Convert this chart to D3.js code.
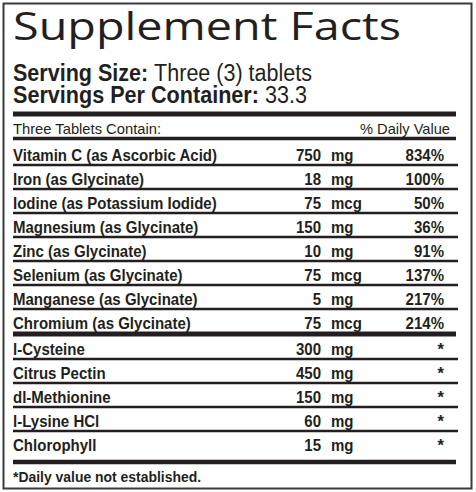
<!DOCTYPE html>
<meta charset="utf-8">
<head>
<style>
  body { margin: 0; background: #fff; }
  text { fill: #231f20; }
</style>
</head>
<script src="https://d3js.org/d3.v7.min.js"></script>
<body>
<div id="label"></div>
</body>
<script>

    // panel rows: first block carries a daily value, second block is "*"
    var mineralNames = ["Vitamin C (as Ascorbic Acid)", "Iron (as Glycinate)", "Iodine (as Potassium Iodide)",
        "Magnesium (as Glycinate)", "Zinc (as Glycinate)", "Selenium (as Glycinate)",
        "Manganese (as Glycinate)", "Chromium (as Glycinate)"];
    var mineralAmounts = [750, 18, 75, 150, 10, 75, 5, 75];
    var mineralUnits = ["mg", "mg", "mcg", "mg", "mg", "mcg", "mg", "mcg"];
    var mineralDV = [834, 100, 50, 36, 91, 137, 217, 214];

    var otherNames = ["l-Cysteine", "Citrus Pectin", "dl-Methionine", "l-Lysine HCl", "Chlorophyll"];
    var otherAmounts = [300, 450, 150, 60, 15];
    var otherUnits = ["mg", "mg", "mg", "mg", "mg"];

    var title = "Supplement Facts";
    var servingSize = "Three (3) tablets";
    var servingsPerContainer = "33.3";
    var footnote = "*Daily value not established.";

    var W = 476, H = 492;
    var left = 13;
    // no condensed face installed, so Liberation Sans gets squeezed sideways below
    var sans = "'Liberation Sans', Arial, sans-serif";

    var svg = d3.select("#label")
      .append("svg")
        .attr("width", W)
        .attr("height", H);

    // squeeze a text node horizontally by factor f
    function condense(node, f) {
        var w = node.getComputedTextLength();
        d3.select(node).attr("textLength", w * f).attr("lengthAdjust", "spacingAndGlyphs");
    }
    function fitTo(node, target) {
        d3.select(node).attr("textLength", target).attr("lengthAdjust", "spacingAndGlyphs");
    }

    // outer border
    svg.append("rect")
        .attr("x", 3.5).attr("y", 3.5)
        .attr("width", 468).attr("height", 485)
        .attr("fill", "none")
        .attr("stroke", "#3a3a3a")
        .attr("stroke-width", 2);

    svg.append("text")
        .attr("x", left).attr("y", 40)
        .attr("textLength", 388).attr("lengthAdjust", "spacingAndGlyphs")
        .style("font-family", "'Open Sans', sans-serif")
        .style("font-size", "38.5px")
        .text(title);

    var s1 = svg.append("text").attr("x", left).attr("y", 80.5)
        .style("font-family", sans).style("font-size", "23px");
    s1.append("tspan").style("font-weight", "bold").text("Serving Size: ");
    s1.append("tspan").text(servingSize);
    fitTo(s1.node(), 299);

    var s2 = svg.append("text").attr("x", left).attr("y", 102.5)
        .style("font-family", sans).style("font-size", "23px");
    s2.append("tspan").style("font-weight", "bold").text("Servings Per Container: ");
    s2.append("tspan").text(servingsPerContainer);
    fitTo(s2.node(), 294);

    function rule(y, w, x2) {
        svg.append("line")
            .attr("x1", left).attr("x2", x2 || 456)
            .attr("y1", y).attr("y2", y)
            .attr("stroke", "#231f20")
            .attr("stroke-width", w);
    }

    rule(114, 5);

    var h1 = svg.append("text").attr("x", left).attr("y", 133.5)
        .style("font-family", sans).style("font-size", "14.5px")
        .text("Three Tablets Contain:");
    fitTo(h1.node(), 148);
    var h2 = svg.append("text").attr("x", 450).attr("y", 133.5)
        .attr("text-anchor", "end")
        .style("font-family", sans).style("font-size", "14.5px")
        .text("% Daily Value");
    fitTo(h2.node(), 90);

    rule(138.5, 3.3);

    // columns
    var xName = left, xAmt = 321, xUnit = 331, xDV = 444;

    // row baselines
    var y1 = d3.scalePoint().domain(mineralNames).range([160.5, 160.5 + 24 * (mineralNames.length - 1)]);
    var y2 = d3.scalePoint().domain(otherNames).range([354.5, 354.5 + 24 * (otherNames.length - 1)]);

    var squeeze = 1;

    function drawBlock(names, amounts, units, dvs, y, cls) {
        var g = svg.append("g").attr("class", cls)
            .style("font-family", sans)
            .style("font-size", "16.5px")
            .style("font-weight", "bold");

        var row = g.selectAll("g.row")
            .data(names)
            .enter()
            .append("g")
              .attr("class", "row")
              .attr("transform", function (d) { return "translate(0," + y(d) + ")"; });

        row.append("text").attr("x", xName).text(function (d) { return d; });
        row.append("text").attr("x", xAmt).attr("text-anchor", "end")
            .text(function (d, i) { return amounts[i]; });
        row.append("text").attr("x", xUnit)
            .text(function (d, i) { return units[i]; });
        row.append("text").attr("x", xDV).attr("text-anchor", "end")
            .text(function (d, i) { return dvs ? dvs[i] + "%" : "*"; });

        // thin separators between rows
        row.filter(function (d, i) { return i < names.length - 1; })
          .append("line")
            .attr("x1", left).attr("x2", 458)
            .attr("y1", 4.5).attr("y2", 4.5)
            .attr("stroke", "#231f20")
            .attr("stroke-width", 2.4);

        return g;
    }

    var gMin = drawBlock(mineralNames, mineralAmounts, mineralUnits, mineralDV, y1, "minerals");
    rule(334, 5);
    var gOth = drawBlock(otherNames, otherAmounts, otherUnits, null, y2, "others");
    rule(462, 4.5);

    // work out the squeeze from the widest name: 204px in the reference
    squeeze = 204 / gMin.select("text").node().getComputedTextLength();
    svg.selectAll("g.minerals text, g.others text").each(function () {
        if (d3.select(this).text() !== "*") condense(this, squeeze);
    });

    var fn = svg.append("text").attr("x", left).attr("y", 482)
        .style("font-family", sans).style("font-size", "14px").style("font-weight", "bold")
        .text(footnote);
    fitTo(fn.node(), 188);

</script>
